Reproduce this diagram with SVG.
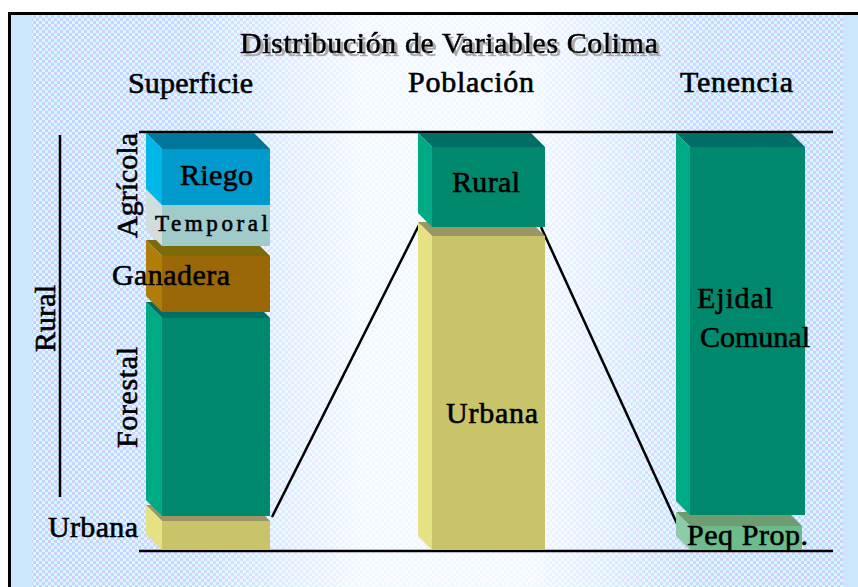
<svg xmlns="http://www.w3.org/2000/svg" width="858" height="587" viewBox="0 0 858 587">
<style>
.t{font-family:"Liberation Serif","Times New Roman",serif;font-size:30px;fill:#000;stroke:#000;stroke-width:0.6}
.ax{stroke:#000;stroke-width:2.5;fill:none}
.cn{stroke:#000;stroke-width:2.5;fill:none}
.riego-f{fill:#009acc}.riego-t{fill:#00779a}.riego-l{fill:#00b8e8}
.temp-f{fill:#9fcbcb}.temp-t{fill:#b8cccc}.temp-l{fill:#d2dddd}
.gan-f{fill:#9a6806}.gan-t{fill:#7d6a08}.gan-l{fill:#b07c0a}
.for-f{fill:#00896c}.for-t{fill:#006e66}.for-l{fill:#00aa84}
.urb-f{fill:#c9c46a}.urb-t{fill:#9c9666}.urb-l{fill:#e4e282}
.peq-f{fill:#6cbb8c}.peq-t{fill:#6f9c70}.peq-l{fill:#8ccca8}
</style>
<defs>
<pattern id="chk" width="6" height="6" patternUnits="userSpaceOnUse">
<rect width="6" height="6" fill="#ccffff"/>
<rect width="3" height="3" fill="#d2ccff"/>
<rect x="3" y="3" width="3" height="3" fill="#d2ccff"/>
</pattern>
<linearGradient id="fade" x1="0" y1="0" x2="1" y2="0">
<stop offset="0" stop-color="#fff" stop-opacity="0"/>
<stop offset="0.2" stop-color="#fff" stop-opacity="0.1"/>
<stop offset="0.4" stop-color="#fff" stop-opacity="0.78"/>
<stop offset="0.62" stop-color="#fff" stop-opacity="0.78"/>
<stop offset="0.82" stop-color="#fff" stop-opacity="0.1"/>
<stop offset="1" stop-color="#fff" stop-opacity="0"/>
</linearGradient>
<filter id="shadow" x="-5%" y="-20%" width="110%" height="150%">
<feOffset in="SourceAlpha" dx="3" dy="3" result="off"/>
<feFlood flood-color="#a8a8a8"/>
<feComposite in2="off" operator="in" result="sh"/>
<feMerge><feMergeNode in="sh"/><feMergeNode in="SourceGraphic"/></feMerge>
</filter>
</defs>
<g id="background">
<rect x="0" y="0" width="858" height="587" fill="#fff"/>
<rect x="10" y="13" width="848" height="574" fill="url(#chk)"/>
<rect x="32" y="13" width="811" height="574" fill="url(#fade)"/>
<rect x="11" y="14" width="21" height="573" fill="#cce6fc"/>
<rect x="843" y="14" width="15" height="573" fill="#cce6fc"/>
<line x1="9.5" y1="13" x2="9.5" y2="587" stroke="#000" stroke-width="3"/>
<line x1="8" y1="13.5" x2="858" y2="13.5" stroke="#000" stroke-width="3"/>
</g>
<g id="title">
<text class="t" x="240" y="53" textLength="418" filter="url(#shadow)">Distribución de Variables Colima</text>
</g>
<g id="headers">
<text class="t" x="128" y="93" textLength="125">Superficie</text>
<text class="t" x="408" y="92" textLength="126">Población</text>
<text class="t" x="680" y="92" textLength="113">Tenencia</text>
</g>
<g id="axes">
<line class="ax" x1="139" y1="132" x2="833" y2="132"/>
<line class="ax" x1="139" y1="551" x2="833" y2="551"/>
<line class="ax" x1="60" y1="135" x2="60" y2="497" stroke-width="2"/>
</g>
<g id="connectors">
<line class="cn" x1="272" y1="517" x2="420" y2="223"/>
<line class="cn" x1="541" y1="227" x2="679" y2="528"/>
</g>
<g id="sup-urbana">
<polygon class="urb-t" points="146,505 254,505 270,521 162,521"/>
<polygon class="urb-l" points="146,505 162,521 162,550 146,534"/>
<rect class="urb-f" x="162" y="521" width="108" height="29"/>
<text class="t" x="48" y="537" textLength="90">Urbana</text>
</g>
<g id="sup-forestal">
<polygon class="for-t" points="146,302 254,302 270,318 162,318"/>
<polygon class="for-l" points="146,302 162,318 162,516 146,500"/>
<rect class="for-f" x="162" y="318" width="108" height="198"/>
<text class="t" transform="translate(137,448) rotate(-90)" x="0" y="0" textLength="101">Forestal</text>
</g>
<g id="sup-ganadera">
<polygon class="gan-t" points="146,240 254,240 270,256 162,256"/>
<polygon class="gan-l" points="146,240 162,256 162,312 146,296"/>
<rect class="gan-f" x="162" y="256" width="108" height="56"/>
<text class="t" x="112" y="285" textLength="118">Ganadera</text>
</g>
<g id="sup-temporal">
<polygon class="temp-t" points="146,189 254,189 270,205 162,205"/>
<polygon class="temp-l" points="146,189 162,205 162,246 146,230"/>
<rect class="temp-f" x="162" y="205" width="108" height="41"/>
<text class="t" x="155" y="231" textLength="113" style="font-size:23px">Temporal</text>
</g>
<g id="sup-riego">
<polygon class="riego-t" points="146,133 254,133 270,149 162,149"/>
<polygon class="riego-l" points="146,133 162,149 162,205 146,189"/>
<rect class="riego-f" x="162" y="149" width="108" height="56"/>
<text class="t" x="180" y="185" textLength="73">Riego</text>
</g>
<g id="label-agricola">
<text class="t" transform="translate(137,238) rotate(-90)" x="0" y="0" textLength="105">Agrícola</text>
</g>
<g id="label-rural">
<text class="t" transform="translate(55,352) rotate(-90)" x="0" y="0" textLength="67">Rural</text>
</g>
<g id="pob-urbana">
<polygon class="urb-t" points="418,222 531,222 545,236 432,236"/>
<polygon class="urb-l" points="418,222 432,236 432,550 418,536"/>
<rect class="urb-f" x="432" y="236" width="113" height="314"/>
<text class="t" x="446" y="423" textLength="92">Urbana</text>
</g>
<g id="pob-rural">
<polygon class="for-t" points="418,133 531,133 545,147 432,147"/>
<polygon class="for-l" points="418,133 432,147 432,227 418,213"/>
<rect class="for-f" x="432" y="147" width="113" height="80"/>
<text class="t" x="452" y="192" textLength="68">Rural</text>
</g>
<g id="ten-peq">
<polygon class="peq-t" points="676,512 788,512 802,526 690,526"/>
<polygon class="peq-l" points="676,512 690,526 690,550 676,536"/>
<rect class="peq-f" x="690" y="526" width="112" height="24"/>
<text class="t" x="687" y="545" textLength="121">Peq Prop.</text>
</g>
<g id="ten-ejidal">
<polygon class="for-t" points="676,133 791,133 805,147 690,147"/>
<polygon class="for-l" points="676,133 690,147 690,515 676,501"/>
<rect class="for-f" x="690" y="147" width="115" height="368"/>
<text class="t" x="697" y="308" textLength="76">Ejidal</text>
<text class="t" x="700" y="347" textLength="110">Comunal</text>
</g>
</svg>
